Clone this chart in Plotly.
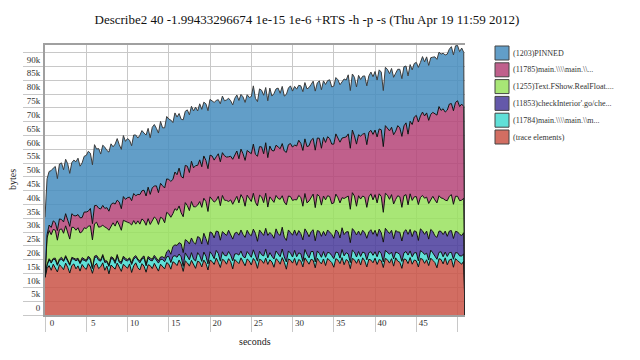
import plotly.graph_objects as go

TITLE = "Describe2 40 -1.99433296674 1e-15 1e-6 +RTS -h -p -s (Thu Apr 19 11:59 2012)"
SAMPLE_STEP = 0.25
END_T = 50.9

# band sizes in kilobytes, one sample every 0.25 s, last sample at END_T
trace_elements = [
    13.5, 16.8, 17.9, 16.2, 18.4, 17.1, 15.6, 18.2, 17.5, 16.4, 18.8, 17.3, 15.2, 17.9, 18.5, 16.7, 17.8, 15.9, 18.3, 17.2,
    16.5, 18.6, 17.4, 15.1, 17.9, 18.7, 16.8, 17.5, 18.9, 16.2, 17.7, 14.9, 18.1, 17.4, 16.6, 18.8, 17.2, 15.8, 18.4, 17.6,
    16.9, 18.5, 15.4, 17.8, 18.9, 17.1, 16.3, 18.6, 17.7, 15.5, 18.2, 17.9, 16.8, 18.7, 17.3, 15.9, 18.4, 17.6, 16.7, 19.0,
    18.4, 16.6, 19.3, 18.8, 17.9, 19.9, 18.5, 15.8, 19.6, 18.9, 17.7, 19.8, 18.6, 16.9, 19.5, 19.1, 17.4, 19.9, 18.7, 16.3,
    19.9, 19.4, 18.3, 20.6, 19.1, 17.2, 20.2, 19.7, 18.4, 20.4, 19.3, 16.7, 20.1, 19.5, 18.6, 20.7, 19.0, 17.8, 20.3, 19.6,
    18.1, 20.5, 19.4, 16.9, 20.2, 19.8, 18.7, 20.6, 18.3, 20.0, 19.2, 17.3, 20.4, 19.7, 18.4, 20.8, 19.1, 16.6, 20.3, 19.9,
    18.8, 20.5, 18.0, 20.1, 19.6, 17.4, 20.7, 19.3, 18.4, 20.2, 19.8, 17.1, 20.6, 19.4, 18.5, 20.3, 17.9, 20.5, 19.7, 19.0,
    17.3, 20.4, 19.9, 18.6, 20.8, 18.2, 20.1, 19.5, 16.8, 20.5, 20.0, 18.7, 20.3, 18.1, 20.7, 19.6, 17.4, 20.2, 19.9, 18.9,
    20.6, 18.3, 20.1, 19.7, 17.2, 20.5, 20.0, 18.8, 20.4, 17.7, 20.7, 19.5, 19.1, 16.9, 20.3, 20.1, 18.6, 20.8, 18.4, 19.9,
    19.6, 17.4, 20.5, 20.2, 18.7, 20.0, 17.9, 20.6, 19.8, 19.0, 17.1, 20.4, 20.1, 18.5, 20.7, 18.2, 19.9, 20.3, 17.3, 20.4,
    19.7, 18.9, 18.4, 19.5, 0.0,
]
main_11784 = [
    0.4, 1.3, 2.1, 2.6, 1.8, 2.9, 2.4, 1.6, 2.7, 3.0, 2.2, 1.9, 2.8, 2.5, 1.7, 2.9, 2.3, 2.7, 1.8, 2.6,
    2.9, 2.1, 2.6, 1.7, 2.8, 2.4, 3.0, 2.0, 2.5, 2.8, 1.6, 2.7, 2.3, 2.9, 2.1, 2.6, 1.9, 2.8, 2.4, 2.2,
    2.7, 1.8, 2.9, 2.4, 2.1, 2.8, 2.6, 1.7, 3.0, 2.3, 2.5, 1.9, 2.8, 2.2, 2.7, 2.9, 1.8, 2.5, 2.6, 2.1,
    2.8, 2.4, 1.9, 2.7, 3.0, 2.2, 2.6, 1.8, 2.9, 2.5, 2.3, 2.8, 1.7, 2.6, 3.1, 2.4, 2.0, 2.9, 2.6, 2.2,
    3.0, 2.5, 2.1, 2.8, 3.2, 2.3, 2.7, 1.9, 3.0, 2.6, 2.4, 2.9, 2.0, 2.7, 3.1, 2.5, 2.2, 2.9, 2.7, 2.4,
    2.8, 3.1, 2.2, 2.6, 2.9, 2.0, 2.7, 3.2, 2.4, 2.6, 2.1, 3.0, 2.8, 2.3, 2.7, 3.1, 1.9, 2.6, 2.9, 2.5,
    2.2, 2.9, 3.1, 2.4, 2.6, 2.0, 3.0, 2.7, 2.3, 2.8, 3.2, 2.1, 2.6, 2.9, 2.4, 2.7, 3.0, 2.2, 2.8, 2.5,
    3.1, 2.4, 2.7, 2.0, 2.9, 3.2, 2.5, 2.6, 2.2, 3.0, 2.8, 2.3, 2.7, 3.1, 2.1, 2.9, 2.6, 2.4, 3.0, 2.7,
    2.3, 2.8, 3.1, 2.5, 2.0, 2.9, 2.7, 3.2, 2.4, 2.6, 2.1, 3.0, 2.8, 2.5, 2.2, 2.9, 3.1, 2.4, 2.7, 2.6,
    3.0, 2.2, 2.8, 2.6, 3.2, 2.4, 2.0, 2.9, 2.7, 2.5, 3.1, 2.3, 2.8, 2.6, 2.1, 3.0, 2.7, 2.4, 2.9, 2.2,
    2.8, 2.5, 3.0, 2.6, 0.0,
]
check_interior = [
    0.0, 0.2, 0.4, 0.5, 0.3, 0.6, 0.4, 0.5, 0.7, 0.3, 0.5, 0.6, 0.4, 0.5, 0.3, 0.6, 0.5, 0.4, 0.7, 0.5,
    0.4, 0.6, 0.5, 0.3, 0.6, 0.5, 0.7, 0.4, 0.5, 0.6, 0.3, 0.5, 0.7, 0.4, 0.6, 0.5, 0.4, 0.6, 0.5, 0.7,
    0.5, 0.4, 0.6, 0.7, 0.5, 0.4, 0.6, 0.5, 0.7, 0.6, 0.5, 0.8, 0.6, 0.7, 0.5, 0.8, 0.8, 1.0, 1.3, 1.8,
    2.4, 3.0, 3.6, 3.9, 4.3, 4.1, 4.7, 5.0, 4.8, 5.4, 5.7, 5.3, 6.0, 6.2, 5.8, 6.5, 6.3, 6.8, 6.4, 7.0,
    7.2, 7.8, 7.5, 7.0, 7.9, 7.6, 7.3, 8.0, 7.4, 7.7, 7.1, 7.9, 7.5, 7.8, 7.2, 7.6, 8.0, 7.4, 7.7, 7.3,
    7.8, 7.5, 8.0, 7.2, 7.7, 7.9, 7.4, 7.6, 8.1, 7.3, 7.8, 7.5, 8.0, 7.4, 7.7, 7.9, 7.2, 7.8, 7.6, 7.5,
    7.9, 7.4, 7.7, 8.1, 7.3, 7.8, 7.5, 8.0, 7.6, 7.2, 7.9, 7.7, 7.4, 8.0, 7.6, 7.3, 7.8, 8.1, 7.5, 7.7,
    7.4, 8.0, 7.6, 7.3, 7.9, 7.7, 7.5, 8.1, 7.2, 7.8, 7.6, 8.0, 7.4, 7.7, 7.9, 7.3, 7.8, 7.5, 8.0, 7.6,
    7.8, 7.4, 7.9, 7.6, 7.2, 8.0, 7.7, 7.5, 7.9, 7.3, 7.8, 7.6, 8.1, 7.4, 7.7, 7.9, 7.5, 7.8, 7.3, 8.0,
    7.6, 7.4, 7.9, 7.7, 7.3, 8.0, 7.6, 7.5, 7.8, 7.2, 7.9, 7.7, 7.4, 8.0, 7.6, 7.3, 7.8, 7.9, 7.5, 7.7,
    7.6, 7.8, 7.4, 7.7, 0.0,
]
show_realfloat = [
    0.0, 9.6, 10.2, 9.8, 10.5, 10.1, 8.7, 10.6, 10.3, 9.9, 10.8, 10.4, 9.1, 10.9, 11.2, 10.5, 11.0, 10.7, 9.4, 11.3,
    11.5, 10.9, 11.8, 10.1, 11.7, 12.0, 11.3, 12.1, 10.6, 12.3, 11.9, 12.6, 11.2, 12.7, 12.9, 12.2, 13.1, 11.5, 13.0, 13.3,
    13.5, 12.6, 13.7, 13.3, 11.4, 13.8, 13.4, 14.0, 12.7, 14.1, 13.7, 12.2, 14.2, 13.9, 14.3, 13.2, 14.4, 13.9, 12.8, 14.3,
    13.0, 13.4, 11.9, 13.1, 12.7, 13.3, 11.2, 13.0, 13.4, 12.8, 12.1, 13.2, 12.9, 13.5, 11.4, 13.1, 13.3, 12.7, 13.4, 12.0,
    12.7, 12.3, 13.0, 11.1, 12.8, 12.5, 13.1, 12.0, 12.7, 10.4, 12.9, 12.6, 12.2, 13.0, 11.7, 12.8, 13.1, 11.3, 12.7, 12.9,
    12.4, 13.0, 11.2, 12.8, 12.6, 13.1, 11.9, 12.7, 10.3, 12.9, 12.5, 13.0, 12.1, 12.8, 13.1, 11.4, 12.7, 12.9, 12.3, 13.0,
    12.6, 11.0, 12.9, 12.7, 13.1, 12.2, 12.8, 10.6, 13.0, 12.5, 12.9, 12.0, 13.1, 12.7, 11.3, 12.8, 13.0, 12.4, 12.9, 11.1,
    12.8, 13.0, 12.3, 12.7, 10.9, 13.1, 12.6, 12.9, 12.1, 13.0, 12.7, 10.4, 12.8, 13.1, 12.4, 12.9, 11.2, 12.7, 13.0, 12.5,
    12.9, 12.1, 12.8, 13.1, 10.8, 12.7, 13.0, 12.4, 12.9, 12.6, 11.3, 13.1, 12.8, 12.2, 13.0, 12.7, 10.7, 12.9, 13.1, 12.3,
    12.7, 13.0, 11.4, 12.8, 13.1, 12.3, 12.9, 10.9, 12.7, 13.0, 12.5, 12.8, 12.1, 13.1, 11.2, 12.9, 12.6, 13.0, 12.4, 12.7,
    12.9, 12.2, 12.8, 12.5, 0.0,
]
main_11785 = [
    0.0, 1.2, 2.0, 2.6, 3.1, 2.8, 3.5, 3.9, 3.4, 4.1, 4.4, 3.8, 4.6, 4.9, 4.3, 5.2, 4.8, 5.5, 5.1, 5.7,
    6.0, 5.4, 6.3, 5.9, 6.6, 6.1, 6.9, 6.4, 7.2, 6.7, 7.4, 6.9, 7.7, 7.2, 8.0, 7.5, 8.3, 7.8, 8.6, 8.1,
    8.9, 9.4, 8.8, 9.8, 10.3, 9.6, 10.7, 10.2, 11.1, 10.6, 11.4, 10.9, 11.7, 11.2, 12.0, 11.5, 12.3, 11.8, 12.6, 12.1,
    12.5, 13.0, 12.4, 13.3, 12.9, 13.7, 13.2, 14.0, 13.5, 14.3, 13.8, 14.6, 14.1, 14.9, 14.4, 15.1, 14.7, 15.3, 14.9, 15.5,
    15.1, 15.6, 15.2, 15.8, 15.4, 15.9, 15.5, 16.1, 15.7, 16.2, 15.8, 16.3, 15.9, 16.4, 16.0, 16.5, 16.1, 16.6, 16.2, 16.7,
    17.3, 17.8, 17.4, 18.0, 17.6, 18.1, 17.7, 18.3, 17.9, 18.4, 18.0, 18.6, 18.2, 18.7, 18.3, 18.9, 18.5, 19.0, 18.6, 19.2,
    19.3, 19.8, 19.5, 20.0, 19.6, 20.2, 19.8, 20.4, 20.0, 20.6, 20.2, 20.8, 20.4, 21.0, 20.6, 21.2, 20.8, 21.4, 21.0, 21.6,
    21.3, 21.8, 21.4, 22.0, 21.6, 22.2, 21.8, 22.5, 22.1, 22.7, 21.8, 22.5, 22.1, 22.8, 22.4, 23.1, 22.7, 23.4, 23.0, 23.7,
    23.4, 23.9, 23.5, 24.2, 23.8, 24.5, 24.1, 24.8, 24.4, 25.1, 24.7, 25.4, 25.0, 25.7, 25.3, 26.0, 25.6, 26.3, 27.5, 28.9,
    29.4, 29.9, 29.5, 30.2, 29.8, 30.5, 30.1, 30.8, 30.4, 31.2, 31.8, 32.3, 31.7, 32.5, 31.9, 32.8, 33.4, 33.0, 33.9, 34.0,
    34.6, 34.1, 34.8, 33.2, 0.0,
]
pinned = [
    21.5, 20.2, 19.4, 20.6, 19.1, 20.3, 18.8, 19.9, 20.5, 18.9, 19.7, 20.8, 19.2, 18.5, 20.1, 19.6, 20.4, 18.7, 19.8, 20.2,
    20.5, 21.7, 20.0, 21.3, 22.1, 20.4, 21.6, 19.9, 21.8, 22.2, 20.7, 21.4, 22.0, 20.3, 21.7, 22.3, 20.8, 21.5, 22.1, 21.0,
    21.4, 20.6, 19.9, 21.2, 22.0, 20.4, 21.5, 21.8, 20.7, 22.1, 21.3, 20.5, 21.9, 22.3, 20.8, 21.6, 22.4, 21.0, 21.8, 22.6,
    21.9, 22.2, 20.6, 21.4, 20.9, 19.8, 20.7, 21.1, 19.6, 20.4, 20.9, 19.9, 20.6, 21.2, 19.7, 20.3, 20.8, 19.5, 20.5, 21.0,
    20.2, 19.8, 20.9, 20.4, 19.6, 21.0, 20.5, 19.9, 20.7, 21.2, 20.1, 19.7, 20.8, 20.3, 21.1, 19.8, 20.6, 21.0, 20.2, 19.9,
    20.7, 21.1, 20.3, 19.8, 20.9, 20.5, 21.2, 20.0, 20.6, 21.0, 19.7, 20.8, 20.4, 21.3, 20.1, 20.7, 19.9, 21.0, 20.5, 20.9,
    20.3, 21.2, 20.6, 19.9, 20.8, 21.3, 20.4, 20.9, 21.1, 20.2, 20.7, 21.4, 20.0, 20.8, 21.2, 20.5, 21.0, 20.3, 21.3, 20.7,
    21.0, 20.4, 21.3, 20.8, 20.2, 21.1, 20.6, 21.4, 20.9, 20.3, 21.2, 20.7, 21.5, 20.5, 21.0, 20.8, 21.3, 20.4, 21.1, 20.9,
    21.2, 20.6, 21.4, 20.9, 20.3, 21.1, 21.5, 20.7, 21.3, 20.8, 21.0, 20.4, 21.2, 20.9, 21.4, 20.6, 21.1, 20.5, 19.8, 19.4,
    19.2, 19.8, 19.4, 20.1, 19.6, 20.3, 19.9, 20.5, 20.0, 20.6, 20.2, 19.7, 20.4, 20.1, 20.7, 20.3, 19.9, 20.6, 20.2, 20.5,
    20.0, 19.9, 20.3, 19.6, 0.0,
]

series_names = [
    "(trace elements)",
    "(11784)main.\\\\\\\\main.\\\\m...",
    "(11853)checkInterior'.go/che...",
    "(1255)Text.FShow.RealFloat....",
    "(11785)main.\\\\\\\\main.\\\\...",
    "(1203)PINNED",
]
series_values = [trace_elements, main_11784, check_interior, show_realfloat, main_11785, pinned]
fill_colors = [
    "rgba(202,84,70,0.85)",
    "rgba(68,219,209,0.85)",
    "rgba(73,59,155,0.85)",
    "rgba(153,226,94,0.85)",
    "rgba(181,68,120,0.85)",
    "rgba(70,141,190,0.85)",
]
swatch_colors = ["#D26E62", "#60E0D8", "#6458AA", "#A8E676", "#C0608C", "#629EC8"]
line_colors = ["#111", "#111", "#111", "#111", "#111", "#3c3c3c"]

n = len(trace_elements)
assert all(len(s) == n for s in series_values), [len(s) for s in series_values]
times = [i * SAMPLE_STEP for i in range(n - 1)] + [END_T]

y_tick_vals = list(range(0, 100, 5))
y_tick_text = [("%dk" % v if v else "0") for v in y_tick_vals[:-1]] + [""]
x_tick_vals = list(range(0, 55, 5))
x_tick_text = [str(v) for v in x_tick_vals[:-1]] + [""]

fig = go.Figure()
for name, vals, fc, lc in zip(series_names, series_values, fill_colors, line_colors):
    fig.add_trace(go.Scatter(
        x=times, y=vals, name=name, mode="lines", stackgroup="one",
        line=dict(color=lc, width=1), fillcolor=fc, showlegend=False,
    ))

SERIF = "Liberation Serif, Times New Roman, serif"
L, R, T, B = 45, 175, 45, 45
PW, PH = 640 - L - R, 360 - T - B

def px_x(px):
    return (px - L) / PW

def px_y(py):
    return (360 - B - py) / PH

shapes = []
annotations = []
# legend, top entry first
for i, idx in enumerate(reversed(range(len(series_names)))):
    top = 46 + 16.8 * i
    shapes.append(dict(type="rect", xref="paper", yref="paper",
                       x0=px_x(495), x1=px_x(509), y0=px_y(top + 14), y1=px_y(top),
                       fillcolor=swatch_colors[idx], line=dict(color="#444", width=1)))
    annotations.append(dict(xref="paper", yref="paper", x=px_x(511), y=px_y(top + 7),
                            text=series_names[idx], showarrow=False, xanchor="left", yanchor="middle",
                            font=dict(family=SERIF, size=8, color="#333")))

annotations.append(dict(xref="paper", yref="paper", x=px_x(12), y=0.5, text="bytes", textangle=-90,
                        xanchor="center", yanchor="middle",
                        showarrow=False, font=dict(family=SERIF, size=10, color="#222")))
annotations.append(dict(xref="paper", yref="paper", x=0.5, y=px_y(341), text="seconds",
                        xanchor="center", yanchor="middle",
                        showarrow=False, font=dict(family=SERIF, size=10, color="#222")))

fig.update_layout(
    template="none",
    width=640, height=360,
    margin=dict(l=L, r=R, t=T, b=B, autoexpand=False),
    paper_bgcolor="white", plot_bgcolor="white",
    title=dict(text=TITLE, x=307 / 640, xanchor="center", y=1 - 19 / 360, yanchor="middle",
               font=dict(family=SERIF, size=13, color="#111")),
    xaxis=dict(range=[0, END_T], tickmode="array", tickvals=x_tick_vals, ticktext=x_tick_text,
               automargin=False,
               showgrid=True, gridcolor="#c8c8c8", gridwidth=1, zeroline=False,
               ticks="outside", ticklen=15, tickcolor="#c8c8c8", tickwidth=1,
               ticklabelstandoff=-17, ticklabelshift=7,
               showline=True, linecolor="#a0a0a0", linewidth=2, mirror=True,
               tickfont=dict(family=SERIF, size=9, color="#333")),
    yaxis=dict(range=[0, 97.8], tickmode="array", tickvals=y_tick_vals, ticktext=y_tick_text,
               automargin=False,
               showgrid=True, gridcolor="#c8c8c8", gridwidth=1, zeroline=False,
               ticks="outside", ticklen=20, tickcolor="#c8c8c8", tickwidth=1,
               ticklabelstandoff=-19, ticklabelshift=-7,
               showline=True, linecolor="#a0a0a0", linewidth=2,
               tickfont=dict(family=SERIF, size=9, color="#333")),
    shapes=shapes, annotations=annotations,
    hovermode=False,
)

fig.write_html("out.html", config={"displayModeBar": False},
               post_script="document.body.style.margin='0';document.body.style.padding='0';")
